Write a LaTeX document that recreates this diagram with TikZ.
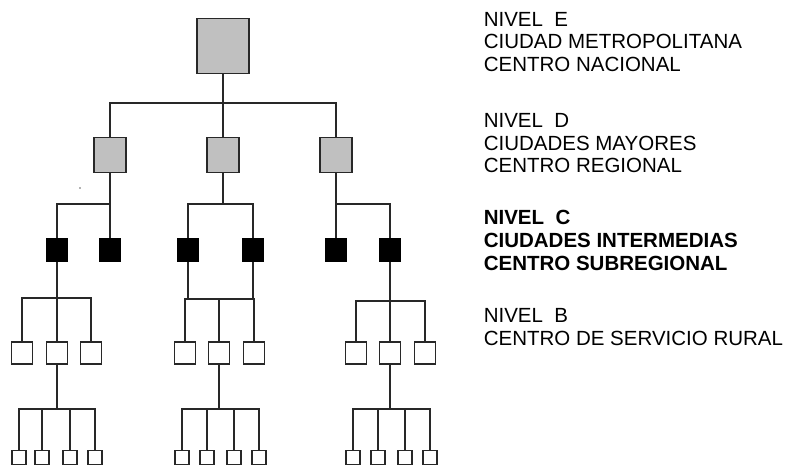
\documentclass[tikz,border=0pt]{standalone}
\usepackage{fontspec}
\setmainfont{Liberation Sans}
\definecolor{gris}{RGB}{192,192,192}
\definecolor{trazo}{RGB}{40,40,40}
\tikzset{
  caja/.style={draw=trazo,rectangle,inner sep=0pt},
  nivelE/.style={caja,fill=gris,minimum width=52pt,minimum height=55pt},
  nivelD/.style={caja,fill=gris,minimum width=32pt,minimum height=35pt},
  nivelC/.style={caja,fill=black,draw=black,minimum width=21pt,minimum height=23pt},
  nivelB/.style={caja,fill=white,minimum width=21pt,minimum height=22pt},
  nivelA/.style={caja,fill=white,minimum width=14pt,minimum height=14pt},
  rotulo/.style={anchor=base west,inner sep=0pt,font=\fontsize{20.5}{22.5}\selectfont},
  rotulob/.style={rotulo,font=\fontsize{20.5}{22.5}\selectfont\bfseries}
}
\begin{document}
\begin{tikzpicture}[x=1pt,y=-1pt,line width=1.6pt,draw=trazo]
\useasboundingbox (0,0) rectangle (790,466);
% cajas
\node[nivelE] (E) at (223,46) {};
\node[nivelD] (D1) at (110,155) {};
\node[nivelD] (D2) at (223,155) {};
\node[nivelD] (D3) at (336,155) {};
\foreach \n/\x in {1/57,2/110,3/188,4/253,5/336,6/390}
  \node[nivelC] (C\n) at (\x,250) {};
\foreach \n/\x in {1/22,2/57,3/91,4/185,5/219,6/254,7/356,8/390,9/425}
  \node[nivelB] (B\n) at (\x,353) {};
\foreach \n/\x in {1/19,2/42,3/70,4/95,5/182,6/207,7/234,8/259,9/353,10/378,11/405,12/430}
  \node[nivelA] (A\n) at (\x,457.5) {};
% uniones
\coordinate (jE) at (223,103);
\draw (E) -- (jE) -| (D1);
\draw (jE) -- (D2);
\draw (jE) -| (D3);
\coordinate (jD1) at (110,204);
\draw (D1) -- (jD1) -| (C1);
\draw (jD1) -- (C2);
\coordinate (jD2) at (223,204);
\draw (D2) -- (jD2) -| (C3);
\draw (jD2) -| (C4);
\coordinate (jD3) at (336,204);
\draw (D3) -- (jD3) -- (C5);
\draw (jD3) -| (C6);
\coordinate (jC1) at (57,298);
\draw (C1) -- (jC1) -| (B1);
\draw (jC1) -- (B2);
\draw (jC1) -| (B3);
\coordinate (jC2) at (219,299);
\draw (C3) -- (C3 |- jC2);
\draw (C4) -- (C4 |- jC2);
\draw (jC2) -| (B4);
\draw (jC2) -- (B5);
\draw (jC2) -| (B6);
\coordinate (jC3) at (390,301);
\draw (C6) -- (jC3) -| (B7);
\draw (jC3) -- (B8);
\draw (jC3) -| (B9);
\coordinate (jB1) at (57,409);
\coordinate (jB2) at (219,409);
\coordinate (jB3) at (390,409);
\draw (B2) -- (jB1);
\draw (B5) -- (jB2);
\draw (B8) -- (jB3);
\foreach \k in {1,...,4} \draw (jB1) -| (A\k);
\foreach \k in {5,...,8} \draw (jB2) -| (A\k);
\foreach \k in {9,...,12} \draw (jB3) -| (A\k);
\fill[black!60] (80,188) circle (0.9pt);
% niveles
\node[rotulo] (tE1) at (483,26) {NIVEL\ \ E};
\node[rotulo] (tE2) at (483,48.5) {CIUDAD METROPOLITANA};
\node[rotulo] (tE3) at (483,71) {CENTRO NACIONAL};
\node[rotulo] (tD1) at (483,127.5) {NIVEL\ \ D};
\node[rotulo] (tD2) at (483,150) {CIUDADES MAYORES};
\node[rotulo] (tD3) at (483,172.5) {CENTRO REGIONAL};
\node[rotulob] (tC1) at (483,224.5) {NIVEL\ \ C};
\node[rotulob] (tC2) at (483,247) {CIUDADES INTERMEDIAS};
\node[rotulob] (tC3) at (483,270) {CENTRO SUBREGIONAL};
\node[rotulo] (tB1) at (483,322) {NIVEL\ \ B};
\node[rotulo] (tB2) at (483,345) {CENTRO DE SERVICIO RURAL};
\end{tikzpicture}
\end{document}
